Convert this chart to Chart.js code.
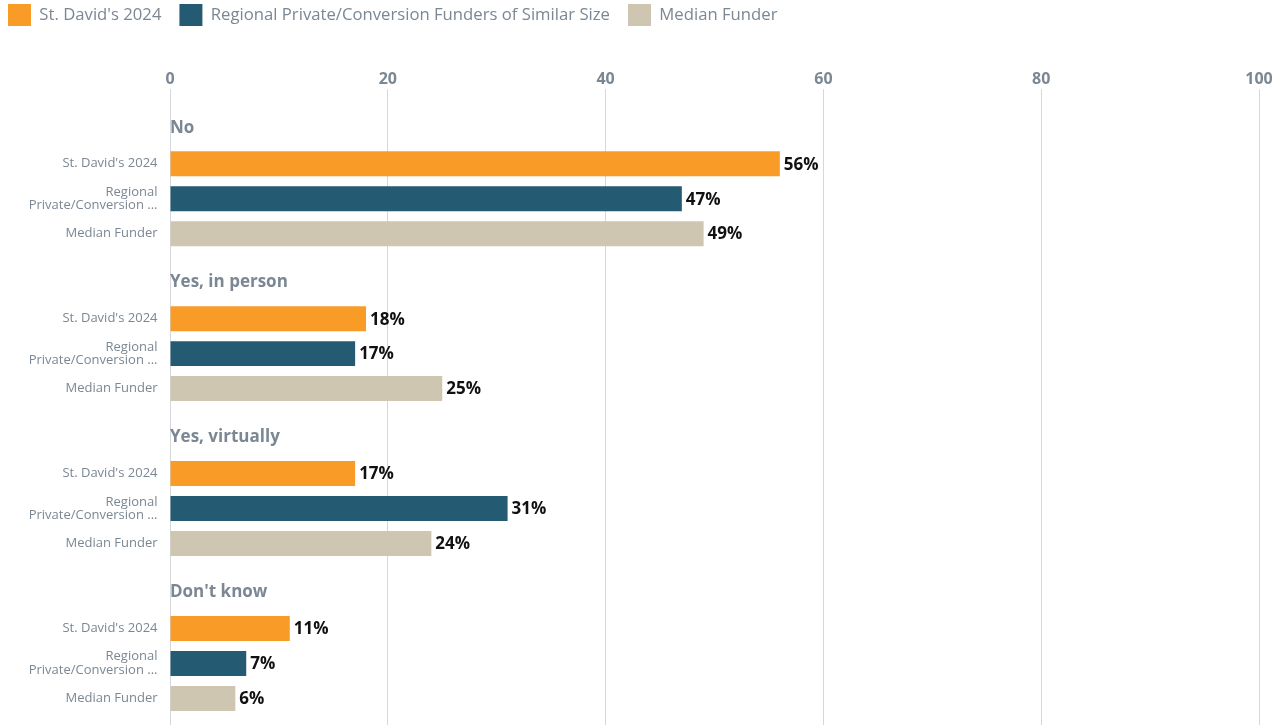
<!DOCTYPE html>
<html>
<head>
<meta charset="utf-8">
<script src="https://cdn.jsdelivr.net/npm/chart.js@4/dist/chart.umd.min.js"></script>
<style>
  html, body { margin: 0; padding: 0; background: #fff; overflow: hidden; }
  #wrap { position: relative; width: 1286px; height: 741px; }
</style>
</head>
<body>
<div id="wrap"><canvas id="chart" width="1286" height="741"></canvas></div>
<script>
  // ── data ───────────────────────────────────────────────────────────────
  const groups = ["No", "Yes, in person", "Yes, virtually", "Don't know"];
  const seriesNames = ["St. David's 2024", "Regional Private/Conversion Funders of Similar Size", "Median Funder"];
  const rowLabels = [["St. David's 2024"], ["Regional", "Private/Conversion ..."], ["Median Funder"]];
  const stDavids = [56, 18, 17, 11];
  const regional = [47, 17, 31, 7];
  const median = [49, 25, 24, 6];
  const xTicks = [0, 20, 40, 60, 80, 100];

  const COLORS = ["#f89c27", "#245a72", "#cec6b0"];
  const GREY = "#7b8793";
  const FONT = "'Open Sans', 'Noto Sans', sans-serif";

  // group titles above each band + row labels and values beside each bar
  const annotate = {
    id: "annotate",
    afterDatasetsDraw(chart) {
      const { ctx, chartArea, scales } = chart;
      const band = chartArea.height / groups.length;
      ctx.save();
      ctx.textBaseline = "middle";

      ctx.font = `bold 17px ${FONT}`;
      ctx.fillStyle = GREY;
      ctx.textAlign = "left";
      groups.forEach((g, i) => {
        const top = scales.y.getPixelForValue(i) - band / 2;
        ctx.fillText(g, chartArea.left, top + 6.5);
      });

      chart.data.datasets.forEach((ds, di) => {
        const meta = chart.getDatasetMeta(di);
        meta.data.forEach((bar, i) => {
          // value
          ctx.font = `bold 17px ${FONT}`;
          ctx.fillStyle = "#111";
          ctx.textAlign = "left";
          ctx.fillText(ds.data[i] + "%", bar.x + 4, bar.y + 1);
          // row label
          ctx.font = `13px ${FONT}`;
          ctx.fillStyle = GREY;
          ctx.textAlign = "right";
          const lines = rowLabels[di];
          const lh = 13.5;
          lines.forEach((ln, k) => {
            ctx.fillText(ln, chartArea.left - 12.5, bar.y + (k - (lines.length - 1) / 2) * lh);
          });
        });
      });
      ctx.restore();
    },
  };

  new Chart(document.getElementById("chart"), {
    type: "bar",
    data: {
      labels: groups,
      datasets: [stDavids, regional, median].map((d, i) => ({
        label: seriesNames[i],
        data: d,
        backgroundColor: COLORS[i],
        borderWidth: 0,
        categoryPercentage: 0.677,
        barPercentage: 0.714,
      })),
    },
    options: {
      indexAxis: "y",
      responsive: false,
      animation: false,
      layout: { padding: { left: -10, top: -14, right: 27, bottom: 0 } },
      plugins: {
        tooltip: { enabled: false },
        legend: {
          position: "top",
          align: "start",
          labels: {
            boxWidth: 23, boxHeight: 22, padding: 18,
            color: GREY, font: { family: FONT, size: 16.7 },
          },
        },
      },
      scales: {
        x: {
          position: "top",
          min: 0, max: 100,
          afterBuildTicks: (s) => { s.ticks = xTicks.map((v) => ({ value: v })); },
          afterFit: (s) => { s.height += 34; },
          ticks: { color: GREY, font: { family: FONT, size: 16, weight: "bold" }, padding: 0 },
          grid: { color: "#d4d8dc", tickLength: 32, lineWidth: 1 },
          border: { display: false },
        },
        y: {
          ticks: { display: false },
          grid: { display: false },
          border: { display: false },
          afterFit: (s) => { s.width = 180; },
        },
      },
    },
    plugins: [annotate],
  });
</script>
</body>
</html>
